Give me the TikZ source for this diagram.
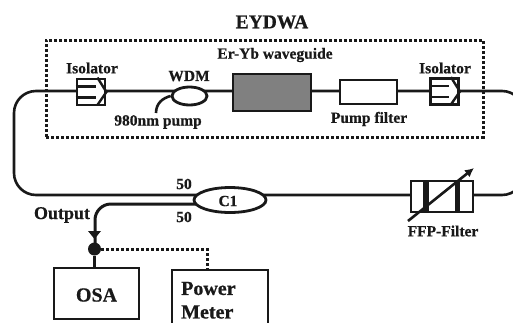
\documentclass[tikz,border=0pt]{standalone}
\usepackage{fontspec}
\setmainfont[BoldFeatures={FakeBold=0.6}]{Liberation Serif}
\usetikzlibrary{arrows.meta,shapes.geometric}
\tikzset{
 lbl/.style={font=\bfseries\fontsize{15.5}{17}\selectfont,inner sep=0pt,text=black!90},
 lblb/.style={font=\bfseries\fontsize{19.5}{21}\selectfont,inner sep=0pt,text=black!90},
 lblc/.style={font=\bfseries\fontsize{20}{22}\selectfont,inner sep=0pt,text=black!90},
 lbld/.style={font=\bfseries\fontsize{18}{20}\selectfont,inner sep=0pt,text=black!90},
 fib/.style={line width=2.6pt,draw=black!90},
 box/.style={line width=2.8pt,draw=black!90,fill=white,inner sep=0pt},
 dots/.style={line width=3pt,draw=black!90,dash pattern=on 2.6pt off 2.4pt},
}
\begin{document}
\begin{tikzpicture}[x=1pt,y=-1pt]
\useasboundingbox (0,0) rectangle (513,322);
\clip (0,0) rectangle (513,322);
% fibres
\coordinate (tl) at (14,91);
\coordinate (bl) at (14,195);
\coordinate (tr) at (524,91);
\coordinate (br) at (524,195);
\draw[fib,rounded corners=22pt] (tr) -- (tl) -- (bl) -- (br) -- cycle;
% dotted amplifier box
\node[dots,minimum width=437pt,minimum height=97pt,inner sep=0pt] (eydwa) at (264.5,88.5) {};
% isolators
\node[box,minimum width=28pt,minimum height=26pt] (iso1) at (91,92) {};
\node[box,minimum width=28pt,minimum height=26pt] (iso2) at (444.5,91.5) {};
\foreach \c in {iso1,iso2}{
 \draw[line width=2.4pt,black!90] (\c.west) ++(0,-5.5) -- ++(20,0);
 \draw[line width=2.4pt,black!90] (\c.west) ++(0,5.5) -- ++(20,0);
 \draw[line width=2.4pt,black!90] (\c.north east) ++(-9,0) -- (\c.east) -- ++(-9,13);
}
% WDM
\node[box,ellipse,minimum width=35pt,minimum height=18pt] (wdm) at (189.5,96) {};
% waveguide
\node[draw=black!90,line width=2.8pt,fill=black!50,inner sep=0pt,minimum width=78pt,minimum height=37pt] (wg) at (272,92.5) {};
% pump filter
\node[box,minimum width=57pt,minimum height=24pt] (pf) at (368.5,92) {};
% pump branch
\coordinate (pumpend) at (156,113);
\draw[fib] (wdm.west) .. controls (163,98) and (156,103) .. (pumpend);
% coupler
\node[box,ellipse,minimum width=72pt,minimum height=25pt] (c1) at (230,200) {};
\node[lbl] at (228,201) {C1};
% output
\draw[line width=3pt,black!90,rounded corners=16pt] (196,204) -- (95,204) -- (95,249);
\node[fill=black!90,circle,minimum size=13pt,inner sep=0pt] (dot) at (94.5,249) {};
\fill[black!90] (88,231) -- (101,231) -- (94.5,239) -- cycle;
% OSA, Power meter
\node[box,minimum width=85pt,minimum height=51pt] (osa) at (96.5,293.5) {};
\draw[fib] (dot) -- (osa.north -| dot);
\node[lblc] at (96.5,295) {OSA};
\draw[line width=2.8pt,black!90] (172,330) |- (268,270) -- (268,330);
\coordinate (pmtop) at (207,270);
\draw[dots] (dot) -- (207,249) -- (pmtop);
\node[lblc,anchor=west] at (181,288.5) {Power};
\node[lblc,anchor=west] at (181,312) {Meter};
% FFP filter
\node[box,minimum width=62pt,minimum height=31pt] (ffp) at (442,196.5) {};
\fill[black!90] (423,181) rectangle (429,212);
\fill[black!90] (455,181) rectangle (460,212);
\coordinate (fa) at (408,221);
\coordinate (fb) at (474,168);
\draw[line width=2.6pt,black!90,-{Latex[length=9pt,width=9pt]}] (fa) -- (fb);
% labels
\node[lblb] at (272,22) {EYDWA};
\node[lbl] at (92,68) {Isolator};
\node[lbl] at (445,68) {Isolator};
\node[lbl] at (189,76) {WDM};
\node[lbl] at (158,122) {980nm pump};
\node[lbl] at (275,55) {Er-Yb waveguide};
\node[lbl] at (369,119) {Pump filter};
\node[lbl] at (184,184) {50};
\node[lbl] at (184,217) {50};
\node[lbld] at (62,215) {Output};
\node[lbl] at (443,231) {FFP-Filter};
\end{tikzpicture}
\end{document}
